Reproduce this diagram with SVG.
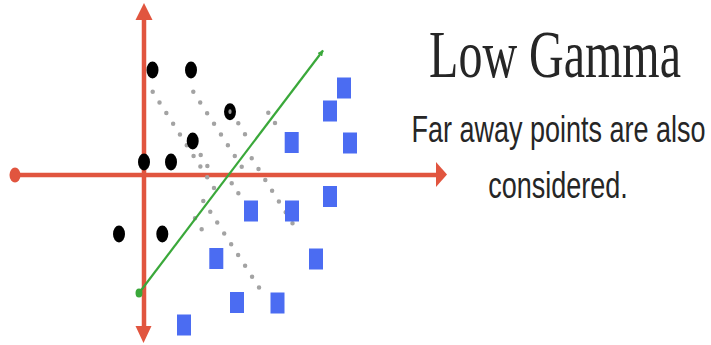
<svg xmlns="http://www.w3.org/2000/svg" width="711" height="345" viewBox="0 0 711 345">
<style>
.axis{stroke:#e1553f;stroke-width:4.5;fill:none}
.axhead{fill:#e1553f}
.dot{fill:#000}
.sq{fill:#4b6cf2}
.dash{stroke:#a3a3a3;stroke-width:4.5;stroke-linecap:round;stroke-dasharray:0 1;fill:none}
.green{stroke:#3aa83a;stroke-width:2.2;fill:none}
.title{font-family:"Liberation Serif",serif;font-size:48px;fill:#262626}
.sub{font-family:"Liberation Sans",Arial,sans-serif;font-size:27px;fill:#262626}
</style>
<defs>
<marker id="gArrow" viewBox="0 0 10 10" refX="9" refY="5" markerWidth="6" markerHeight="6" orient="auto" markerUnits="userSpaceOnUse">
<path d="M0,0 L10,5 L0,10 z" fill="#3aa83a"/>
</marker>
</defs>
<rect width="711" height="345" fill="#fff"/>

<g id="axes">
<line class="axis" x1="144" y1="18" x2="144" y2="329"/>
<line class="axis" x1="15" y1="175" x2="438" y2="175"/>
<polygon class="axhead" points="144,3 152.5,20 135.5,20"/>
<polygon class="axhead" points="143.5,343 151.5,326 135.5,326"/>
<polygon class="axhead" points="447,174.5 436,162 436,187"/>
<ellipse class="axhead" cx="15" cy="175" rx="5.5" ry="7.5"/>
</g>

<g id="distances">
<path class="dash" pathLength="9" d="M152.7,91.7 L214,188"/>
<path class="dash" pathLength="2" d="M200.7,155 L214,177"/>
<path class="dash" pathLength="9" d="M203.3,201 L266,298.3"/>
<path class="dash" pathLength="2" d="M195,218.3 L208.3,240"/>
<path class="dash" pathLength="7" d="M193.3,91.7 L241.7,166.7"/>
<path class="dash" pathLength="2" d="M231.7,183.3 L245,203.3"/>
<path class="dash" pathLength="2" d="M238.3,123.3 L251.7,145"/>
<path class="dash" pathLength="7" d="M251.7,158.3 L299.3,234"/>
<path class="dash" pathLength="2" d="M268.3,112.7 L281.7,133.3"/>
</g>

<g id="boundary">
<line class="green" x1="139" y1="293" x2="323" y2="50.5" marker-end="url(#gArrow)"/>
<ellipse cx="139" cy="293" rx="3.5" ry="4.5" fill="#3aa83a"/>
</g>

<g id="class-black">
<ellipse class="dot" cx="152.5" cy="70" rx="6" ry="8.5"/>
<ellipse class="dot" cx="191" cy="70" rx="6" ry="8.5"/>
<ellipse class="dot" cx="230" cy="111.7" rx="6" ry="8.5"/>
<ellipse cx="230" cy="111.7" rx="1.6" ry="2.4" fill="#9a9a9a"/>
<ellipse class="dot" cx="192.7" cy="141" rx="6" ry="8.5"/>
<ellipse class="dot" cx="144" cy="162" rx="6" ry="8.5"/>
<ellipse class="dot" cx="171" cy="162" rx="6" ry="8.5"/>
<ellipse class="dot" cx="119" cy="234" rx="6" ry="8.5"/>
<ellipse class="dot" cx="162.3" cy="234" rx="6" ry="8.5"/>
</g>

<g id="class-blue">
<rect class="sq" x="337" y="77.5" width="14" height="21"/>
<rect class="sq" x="323" y="100.5" width="14" height="21"/>
<rect class="sq" x="343" y="132.5" width="14" height="21"/>
<rect class="sq" x="284.7" y="132" width="14" height="21"/>
<rect class="sq" x="323" y="186" width="14" height="21"/>
<rect class="sq" x="244" y="200.5" width="14" height="21"/>
<rect class="sq" x="285" y="200.5" width="14" height="21"/>
<rect class="sq" x="209.3" y="248" width="14" height="21"/>
<rect class="sq" x="309" y="248.5" width="14" height="21"/>
<rect class="sq" x="230" y="292" width="14" height="21"/>
<rect class="sq" x="270.5" y="292.5" width="14" height="21"/>
<rect class="sq" x="177" y="314.5" width="14" height="21"/>
</g>

<g id="caption">
<text class="title" text-anchor="middle" transform="translate(555,77) scale(1,1.4)">Low Gamma</text>
<text class="sub" text-anchor="middle" transform="translate(558.5,142) scale(1,1.4)">Far away points are also</text>
<text class="sub" text-anchor="middle" transform="translate(558,198) scale(1,1.4)">considered.</text>
</g>
</svg>
